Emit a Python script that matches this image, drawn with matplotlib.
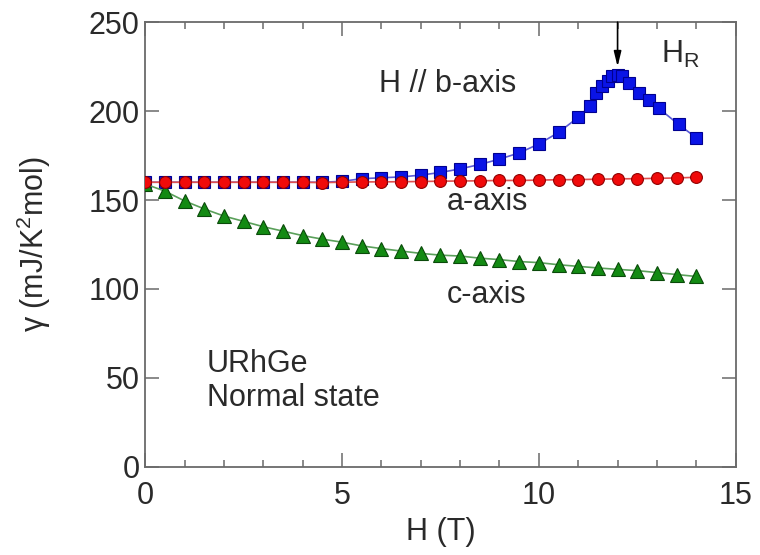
import matplotlib
matplotlib.use("Agg")
import matplotlib.pyplot as plt
from matplotlib.ticker import MultipleLocator

# ---------------- data ----------------
x_b = [0, 0.5, 1.0, 1.5, 2.0, 2.5, 3.0, 3.5, 4.0, 4.5, 5.0, 5.5, 6.0, 6.5, 7.0,
       7.5, 8.0, 8.5, 9.0, 9.5, 10.0, 10.5, 11.0, 11.3, 11.45, 11.6, 11.75,
       11.85, 12.0, 12.12, 12.3, 12.55, 12.8, 13.05, 13.55, 14.0]
y_b = [160, 160, 160, 160, 160, 160, 160, 160, 160, 160, 160.5, 162, 162.5, 163, 164,
       165.5, 167.5, 170, 173, 176.5, 181.5, 188, 196.5, 203, 210, 214, 217,
       219.5, 220.5, 220, 216, 210, 206, 201.5, 192.5, 185]

x_a = [0, 0.5, 1.0, 1.5, 2.0, 2.5, 3.0, 3.5, 4.0, 4.5, 5.0, 5.5, 6.0, 6.5, 7.0,
       7.5, 8.0, 8.5, 9.0, 9.5, 10.0, 10.5, 11.0, 11.5, 12.0, 12.5, 13.0, 13.5, 14.0]
y_a = [160, 160, 160, 160, 160, 160, 160, 160, 160, 159.8, 160, 160.2, 160.2, 160.3, 160.4,
       160.6, 160.7, 160.8, 161, 161, 161.2, 161.4, 161.5, 161.7, 161.9, 162, 162.2, 162.4, 162.8]

x_c = [0, 0.5, 1.0, 1.5, 2.0, 2.5, 3.0, 3.5, 4.0, 4.5, 5.0, 5.5, 6.0, 6.5, 7.0,
       7.5, 8.0, 8.5, 9.0, 9.5, 10.0, 10.5, 11.0, 11.5, 12.0, 12.5, 13.0, 13.5, 14.0]
y_c = [159, 155, 149.5, 145, 141, 138, 135, 132.5, 130, 128, 126.3, 124.2, 122.7, 121.3, 120,
       119, 118.5, 117.3, 116.5, 115.4, 114.8, 113.6, 112.7, 111.8, 111, 110.3, 109.2, 108.1, 107]

x_ticks = [0, 5, 10, 15]
y_ticks = [0, 50, 100, 150, 200, 250]

# ---------------- style ----------------
plt.rcParams['font.family'] = ['Liberation Sans', 'DejaVu Sans']
plt.rcParams['mathtext.fontset'] = 'custom'
plt.rcParams['mathtext.rm'] = 'Liberation Sans'
plt.rcParams['mathtext.it'] = 'Liberation Sans:italic'
FS = 22
TXT = '#2a2a2a'
SPINE = '#6a6a6a'

fig = plt.figure(figsize=(7.6, 5.55), dpi=100)
ax = fig.add_axes([0.191, 0.159, 0.777, 0.801])

ax.plot(x_b, y_b, '-', color='#5a5ad8', lw=1.2, marker='s', ms=9,
        mfc='#0a14e6', mec='#000090', mew=0.8, zorder=3)
ax.plot(x_c, y_c, '-', color='#5aa05a', lw=1.2, marker='^', ms=10,
        mfc='#138a13', mec='#0a4a0a', mew=0.8, zorder=3)
ax.plot(x_a, y_a, '-', color='#e05050', lw=1.2, marker='o', ms=8.5,
        mfc='#f00a0a', mec='#900000', mew=0.8, zorder=4)

ax.set_xlim(0, 15)
ax.set_ylim(0, 250)
ax.set_xticks(x_ticks)
ax.set_yticks(y_ticks)
ax.xaxis.set_minor_locator(MultipleLocator(1))

for s in ax.spines.values():
    s.set_color(SPINE)
    s.set_linewidth(1.3)

ax.tick_params(axis='both', which='both', direction='in', top=True, right=True,
               color=SPINE, labelcolor=TXT, labelsize=FS)
ax.tick_params(axis='both', which='major', length=10, width=1.1)
ax.tick_params(axis='both', which='minor', length=5, width=1.1)
ax.tick_params(axis='x', which='major', pad=10)
ax.tick_params(axis='y', which='major', pad=4)

ax.set_xlabel('H (T)', fontsize=FS, color=TXT)
ax.set_ylabel('γ (mJ/K$^{2}$mol)', fontsize=FS, color=TXT)
ax.xaxis.set_label_coords(0.5, -0.113)
ax.yaxis.set_label_coords(-0.156, 0.5)

ax.text(5.94, 211, 'H // b-axis', fontsize=FS, color=TXT, ha='left', va='baseline')
ax.text(7.66, 144.4, 'a-axis', fontsize=FS, color=TXT, ha='left', va='baseline')
ax.text(7.66, 92.1, 'c-axis', fontsize=FS, color=TXT, ha='left', va='baseline')
ax.text(1.57, 53.5, 'URhGe', fontsize=FS, color=TXT, ha='left', va='baseline')
ax.text(1.57, 34, 'Normal state', fontsize=FS, color=TXT, ha='left', va='baseline')
ax.text(13.1, 227, 'H$_\\mathregular{R}$', fontsize=FS, color=TXT, ha='left', va='baseline')

ax.annotate('', xy=(12.0, 225), xytext=(12.0, 250),
            arrowprops=dict(arrowstyle='-|>,head_length=0.9,head_width=0.22',
                            color='black', lw=1.2, shrinkA=0, shrinkB=0))

fig.savefig('out.png', dpi=100)
